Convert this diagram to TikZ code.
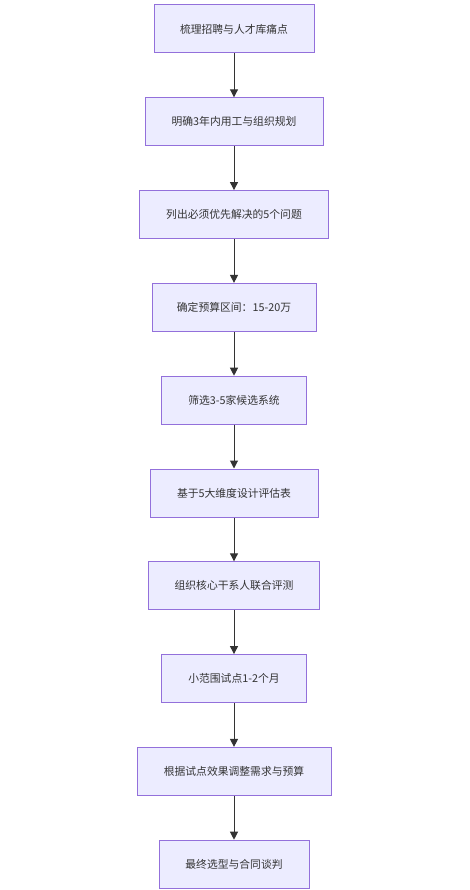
\documentclass[tikz,border=0pt]{standalone}
\usepackage{fontspec}
\setmainfont{Noto Sans CJK SC}
\usetikzlibrary{arrows.meta}
\definecolor{boxfill}{HTML}{ECECFF}
\definecolor{boxline}{HTML}{9370DB}
\definecolor{ink}{HTML}{333333}
\begin{document}
\begin{tikzpicture}[x=1pt,y=-1pt,
  stepbox/.style={draw=boxline,fill=boxfill,line width=1pt,minimum height=48pt,
    inner sep=0pt,text=ink,font=\fontsize{10.8pt}{13pt}\selectfont},
  flow/.style={draw=ink,line width=1pt,-{Triangle[width=8pt,length=8pt]}}]
\useasboundingbox (0,0) rectangle (469,890);
\node[stepbox,minimum width=160pt] (n1) at (234,29) {梳理招聘与人才库痛点};
\node[stepbox,minimum width=178pt] (n2) at (234,121.8) {明确3年内用工与组织规划};
\node[stepbox,minimum width=189pt] (n3) at (234,214.6) {列出必须优先解决的5个问题};
\node[stepbox,minimum width=164pt] (n4) at (234,307.4) {确定预算区间：15-20万};
\node[stepbox,minimum width=145pt] (n5) at (234,400.2) {筛选3-5家候选系统};
\node[stepbox,minimum width=168pt] (n6) at (234,493) {基于5大维度设计评估表};
\node[stepbox,minimum width=171pt] (n7) at (234,585.8) {组织核心干系人联合评测};
\node[stepbox,minimum width=145pt] (n8) at (234,678.6) {小范围试点1-2个月};
\node[stepbox,minimum width=194pt] (n9) at (234,771.4) {根据试点效果调整需求与预算};
\node[stepbox,minimum width=150pt] (n10) at (234,864.2) {最终选型与合同谈判};
\foreach \a/\b in {n1/n2,n2/n3,n3/n4,n4/n5,n5/n6,n6/n7,n7/n8,n8/n9,n9/n10}
  \draw[flow] (\a.south) -- (\b.north);
\end{tikzpicture}
\end{document}
